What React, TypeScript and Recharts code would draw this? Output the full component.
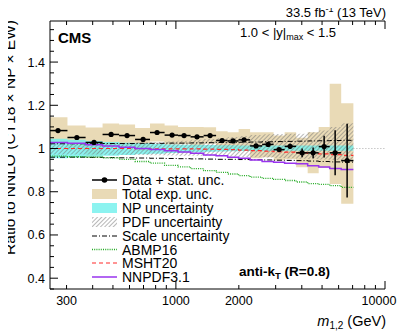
import React from "react";
import {
  ComposedChart,
  Area,
  Line,
  Scatter,
  ErrorBar,
  XAxis,
  YAxis,
  ReferenceLine,
} from "recharts";

const FONT = '"Liberation Sans", Arial, Helvetica, sans-serif';

// dijet mass bins (GeV)
const binEdges = [
  250, 303, 370, 446, 535, 638, 752, 883, 1024, 1175, 1357, 1557, 1768, 1995,
  2264, 2584, 2933, 3311, 3758, 4268, 4818, 5438, 6173, 7060,
];
const binCenters = [
  273, 336, 406, 490, 584, 697, 813, 959, 1094, 1262, 1457, 1663, 1877, 2119,
  2418, 2761, 3117, 3518, 4015, 4532, 5116, 5775, 6590,
];

// data / theory ratio with stat. unc.
const dataRatio = [
  1.083, 1.051, 1.028, 1.065, 1.06, 1.042, 1.074, 1.062, 1.06, 1.054, 1.06,
  1.037, 1.035, 1.04, 1.012, 1.019, 0.995, 1.01, 0.98, 0.98, 1.009, 0.98, 0.944,
];
const statErr = [
  0.002, 0.002, 0.002, 0.002, 0.002, 0.002, 0.002, 0.002, 0.002, 0.003, 0.003,
  0.003, 0.004, 0.004, 0.005, 0.006, 0.008, 0.012, 0.02, 0.025, 0.05, 0.104,
  0.171,
];

// total experimental uncertainty band
const totLow = [
  1.021, 0.996, 0.959, 1.014, 1.009, 0.989, 1.032, 1.018, 1.02, 1.008, 1.022,
  0.994, 0.995, 0.99, 0.955, 0.96, 0.945, 0.95, 0.913, 0.885, 0.91, 0.836, 0.745,
];
const totHigh = [
  1.145, 1.106, 1.097, 1.116, 1.111, 1.095, 1.116, 1.106, 1.1, 1.1, 1.098, 1.08,
  1.075, 1.09, 1.075, 1.075, 1.06, 1.075, 1.05, 1.075, 1.1, 1.3, 1.21,
];

// NP uncertainty
const npLow = [
  0.955, 0.958, 0.962, 0.966, 0.97, 0.973, 0.976, 0.979, 0.981, 0.983, 0.985,
  0.986, 0.987, 0.988, 0.988, 0.989, 0.989, 0.99, 0.99, 0.99, 0.99, 0.99, 0.99,
];
const npHigh = [
  1.045, 1.04, 1.035, 1.03, 1.027, 1.024, 1.021, 1.019, 1.018, 1.017, 1.016,
  1.015, 1.015, 1.014, 1.014, 1.014, 1.014, 1.014, 1.014, 1.014, 1.014, 1.014,
  1.014,
];

// PDF uncertainty
const pdfLow = [
  0.972, 0.972, 0.972, 0.971, 0.971, 0.97, 0.969, 0.968, 0.967, 0.966, 0.965,
  0.964, 0.962, 0.961, 0.96, 0.958, 0.956, 0.955, 0.953, 0.951, 0.949, 0.947,
  0.945,
];
const pdfHigh = [
  1.022, 1.022, 1.023, 1.024, 1.026, 1.028, 1.03, 1.033, 1.036, 1.04, 1.044,
  1.048, 1.053, 1.058, 1.063, 1.066, 1.067, 1.068, 1.068, 1.075, 1.083, 1.1,
  1.117,
];

// scale uncertainty
const scaleUp = [
  1.022, 1.022, 1.022, 1.023, 1.023, 1.024, 1.024, 1.025, 1.025, 1.026, 1.027,
  1.028, 1.028, 1.029, 1.03, 1.031, 1.032, 1.033, 1.034, 1.035, 1.036, 1.037,
  1.038,
];
const scaleDown = [
  0.96, 0.96, 0.959, 0.958, 0.957, 0.956, 0.955, 0.954, 0.953, 0.952, 0.951,
  0.95, 0.95, 0.949, 0.948, 0.947, 0.946, 0.945, 0.944, 0.942, 0.94, 0.938,
  0.937,
];

// alternative PDF sets
const abmp16 = [
  0.965, 0.962, 0.96, 0.957, 0.95, 0.94, 0.932, 0.922, 0.915, 0.907, 0.898,
  0.89, 0.882, 0.875, 0.868, 0.862, 0.857, 0.852, 0.845, 0.838, 0.834, 0.828,
  0.82,
];
const msht20 = [
  1.0, 1.0, 1.0, 1.0, 1.0, 0.999, 0.999, 0.998, 0.998, 0.998, 0.997, 0.996,
  0.995, 0.993, 0.99, 0.988, 0.985, 0.983, 0.98, 0.977, 0.975, 0.972, 0.968,
];
const nnpdf31 = [
  1.028, 1.024, 1.018, 1.012, 1.006, 1.0, 0.995, 0.99, 0.984, 0.978, 0.97,
  0.966, 0.96, 0.955, 0.947, 0.94, 0.937, 0.932, 0.929, 0.92, 0.915, 0.908,
  0.903,
];

// axes
const xTicks = [
  300, 400, 500, 600, 700, 800, 900, 1000, 2000, 3000, 4000, 5000, 6000, 7000,
  8000, 9000, 10000,
];
const xMajor = [1000, 10000];
const xLabels = [300, 1000, 2000, 10000];
const yMajor = [0.4, 0.6, 0.8, 1, 1.2, 1.4];
const yTicks = [
  0.35, 0.4, 0.45, 0.5, 0.55, 0.6, 0.65, 0.7, 0.75, 0.8, 0.85, 0.9, 0.95, 1,
  1.05, 1.1, 1.15, 1.2, 1.25, 1.3, 1.35, 1.4, 1.45, 1.5, 1.55,
];

const legendItems = [
  "Data + stat. unc.",
  "Total exp. unc.",
  "NP uncertainty",
  "PDF uncertainty",
  "Scale uncertainty",
  "ABMP16",
  "MSHT20",
  "NNPDF3.1",
];

const colors = {
  tan: "#e9dab6",
  np: "#6ff0ec",
  hatch: "#707070",
  abmp: "#22aa22",
  msht: "#ff2a2a",
  nnpdf: "#9933ee",
};

// step rows: one per bin edge, last edge repeats last bin
const stepRows = binEdges.map((m, i) => {
  const j = Math.min(i, dataRatio.length - 1);
  return {
    m,
    tot: [totLow[j], totHigh[j]],
    np: [npLow[j], npHigh[j]],
    pdf: [pdfLow[j], pdfHigh[j]],
    scaleUp: scaleUp[j],
    scaleDown: scaleDown[j],
    abmp: abmp16[j],
    msht: msht20[j],
    nnpdf: nnpdf31[j],
  };
});

const points = binCenters.map((m, i) => ({
  m,
  ratio: dataRatio[i],
  yErr: statErr[i],
  xErr: [m - binEdges[i], binEdges[i + 1] - m],
}));

const isMajorY = (v: number) => yMajor.some((t) => Math.abs(t - v) < 1e-6);

const BottomTick = (props: any) => {
  const { x, y, payload } = props;
  const v = payload.value;
  return (
    <g>
      <line x1={x} y1={y} x2={x} y2={y - (xMajor.includes(v) ? 8 : 4)} stroke="#000" />
      {xLabels.includes(v) && (
        <text
          x={v === 10000 ? x - 6 : x}
          y={y + 16}
          textAnchor="middle"
          fontSize={12.5}
          fontFamily={FONT}
          fill="#000"
        >
          {v}
        </text>
      )}
    </g>
  );
};

const TopTick = (props: any) => {
  const { x, y, payload } = props;
  const v = payload.value;
  return <line x1={x} y1={y} x2={x} y2={y + (xMajor.includes(v) ? 8 : 4)} stroke="#000" />;
};

const LeftTick = (props: any) => {
  const { x, y, payload } = props;
  const v = payload.value;
  const major = isMajorY(v);
  return (
    <g>
      <line x1={x} y1={y} x2={x + (major ? 8 : 4)} y2={y} stroke="#000" />
      {major && (
        <text x={x - 5} y={y + 4.5} textAnchor="end" fontSize={12.5} fontFamily={FONT} fill="#000">
          {v === 1 ? "1" : v.toFixed(1)}
        </text>
      )}
    </g>
  );
};

const RightTick = (props: any) => {
  const { x, y, payload } = props;
  const major = isMajorY(payload.value);
  return <line x1={x} y1={y} x2={x - (major ? 8 : 4)} y2={y} stroke="#000" />;
};

const DataPoint = (props: any) => <circle cx={props.cx} cy={props.cy} r={2.6} fill="#000" />;

const Annotations = () => {
  const rowY = [180, 194, 208, 222, 236, 249.5, 263, 277];
  const sx = 92;
  const ex = 117;
  return (
    <svg
      width={407}
      height={331}
      style={{ position: "absolute", left: 0, top: 0, pointerEvents: "none", overflow: "visible" }}
      fontFamily={FONT}
    >
      <defs>
        <pattern
          id="pdfHatchLeg"
          patternUnits="userSpaceOnUse"
          width={3}
          height={3}
          patternTransform="rotate(45)"
        >
          <line x1={0} y1={0} x2={0} y2={3} stroke={colors.hatch} strokeWidth={1} />
        </pattern>
      </defs>
      <text x={386} y={17} textAnchor="end" fontSize={13}>
        33.5 fb<tspan dy={-5} fontSize={9}>-1</tspan>
        <tspan dy={5}> (13 TeV)</tspan>
      </text>
      <text x={58} y={43} fontSize={15} fontWeight="bold">
        CMS
      </text>
      <text x={240} y={37} fontSize={13}>
        1.0 &lt; |y|<tspan dy={3} fontSize={9}>max</tspan>
        <tspan dy={-3}> &lt; 1.5</tspan>
      </text>
      <text x={239} y={276} fontSize={13.5} fontWeight="bold">
        anti-k<tspan dy={3} fontSize={9.5}>T</tspan>
        <tspan dy={-3}> (R=0.8)</tspan>
      </text>
      <text
        x={14.5}
        y={20}
        textAnchor="end"
        fontSize={15.5}
        transform="rotate(-90 14.5 20)"
      >
        Ratio to NNLO (CT18 × NP × EW)
      </text>
      <text x={386} y={326} textAnchor="end" fontSize={14.5}>
        <tspan fontStyle="italic">m</tspan>
        <tspan dy={3} fontSize={10}>1,2</tspan>
        <tspan dy={-3}> (GeV)</tspan>
      </text>

      {/* legend */}
      <line x1={sx} y1={rowY[0]} x2={ex} y2={rowY[0]} stroke="#000" strokeWidth={1.5} />
      <circle cx={(sx + ex) / 2} cy={rowY[0]} r={2.8} fill="#000" />
      <rect x={sx} y={rowY[1] - 5} width={ex - sx} height={10} fill={colors.tan} />
      <rect x={sx} y={rowY[2] - 5} width={ex - sx} height={10} fill={colors.np} fillOpacity={0.8} />
      <rect x={sx} y={rowY[3] - 5} width={ex - sx} height={10} fill="url(#pdfHatchLeg)" />
      <line
        x1={sx}
        y1={rowY[4]}
        x2={ex}
        y2={rowY[4]}
        stroke="#000"
        strokeWidth={1}
        strokeDasharray="5 2 1 2"
      />
      <line
        x1={sx}
        y1={rowY[5]}
        x2={ex}
        y2={rowY[5]}
        stroke={colors.abmp}
        strokeWidth={1.3}
        strokeDasharray="1 1.2"
      />
      <line
        x1={sx}
        y1={rowY[6]}
        x2={ex}
        y2={rowY[6]}
        stroke={colors.msht}
        strokeWidth={1.2}
        strokeDasharray="4 3"
      />
      <line x1={sx} y1={rowY[7]} x2={ex} y2={rowY[7]} stroke={colors.nnpdf} strokeWidth={1.5} />
      {legendItems.map((label, i) => (
        <text key={label} x={122} y={rowY[i] + 5} fontSize={14}>
          {label}
        </text>
      ))}
    </svg>
  );
};

export default function App() {
  return (
    <div
      style={{
        position: "relative",
        width: 407,
        height: 331,
        margin: "-8px 0 0 -8px",
        background: "#fff",
      }}
    >
      <svg width={0} height={0} style={{ position: "absolute" }}>
        <defs>
          <pattern
            id="pdfHatch"
            patternUnits="userSpaceOnUse"
            width={3}
            height={3}
            patternTransform="rotate(45)"
          >
            <line x1={0} y1={0} x2={0} y2={3} stroke={colors.hatch} strokeWidth={1} />
          </pattern>
        </defs>
      </svg>
      <ComposedChart
        width={407}
        height={331}
        data={stepRows}
        margin={{ top: 20, right: 22, bottom: 0, left: 0 }}
      >
        <XAxis
          xAxisId="b"
          dataKey="m"
          type="number"
          scale="log"
          domain={[250, 10000]}
          allowDataOverflow
          ticks={xTicks}
          interval={0}
          tickSize={0}
          tickMargin={0}
          tickLine={false}
          height={42}
          stroke="#000"
          tick={BottomTick}
        />
        <XAxis
          xAxisId="t"
          orientation="top"
          dataKey="m"
          type="number"
          scale="log"
          domain={[250, 10000]}
          allowDataOverflow
          ticks={xTicks}
          interval={0}
          tickSize={0}
          tickMargin={0}
          tickLine={false}
          height={1}
          stroke="#000"
          tick={TopTick}
        />
        <YAxis
          yAxisId="l"
          type="number"
          domain={[0.35, 1.59]}
          allowDataOverflow
          ticks={yTicks}
          interval={0}
          tickSize={0}
          tickMargin={0}
          tickLine={false}
          width={50}
          stroke="#000"
          tick={LeftTick}
        />
        <YAxis
          yAxisId="r"
          orientation="right"
          type="number"
          domain={[0.35, 1.59]}
          allowDataOverflow
          ticks={yTicks}
          interval={0}
          tickSize={0}
          tickMargin={0}
          tickLine={false}
          width={0}
          stroke="#000"
          tick={RightTick}
        />
        <ReferenceLine
          xAxisId="b"
          yAxisId="l"
          segment={[
            { x: 7060, y: 1 },
            { x: 10000, y: 1 },
          ]}
          stroke="#aaaaaa"
          strokeDasharray="1 2"
        />
        <Area
          xAxisId="b"
          yAxisId="l"
          dataKey="tot"
          type="stepAfter"
          stroke="none"
          fill={colors.tan}
          fillOpacity={1}
          isAnimationActive={false}
        />
        <Area
          xAxisId="b"
          yAxisId="l"
          dataKey="np"
          type="stepAfter"
          stroke="none"
          fill={colors.np}
          fillOpacity={0.8}
          isAnimationActive={false}
        />
        <Area
          xAxisId="b"
          yAxisId="l"
          dataKey="pdf"
          type="stepAfter"
          stroke="none"
          fill="url(#pdfHatch)"
          fillOpacity={1}
          isAnimationActive={false}
        />
        <Line
          xAxisId="b"
          yAxisId="l"
          dataKey="scaleUp"
          type="stepAfter"
          stroke="#000"
          strokeWidth={1}
          strokeDasharray="5 2 1 2"
          dot={false}
          activeDot={false}
          isAnimationActive={false}
        />
        <Line
          xAxisId="b"
          yAxisId="l"
          dataKey="scaleDown"
          type="stepAfter"
          stroke="#000"
          strokeWidth={1}
          strokeDasharray="5 2 1 2"
          dot={false}
          activeDot={false}
          isAnimationActive={false}
        />
        <Line
          xAxisId="b"
          yAxisId="l"
          dataKey="abmp"
          type="stepAfter"
          stroke={colors.abmp}
          strokeWidth={1.3}
          strokeDasharray="1 1.2"
          dot={false}
          activeDot={false}
          isAnimationActive={false}
        />
        <Line
          xAxisId="b"
          yAxisId="l"
          dataKey="msht"
          type="stepAfter"
          stroke={colors.msht}
          strokeWidth={1.2}
          strokeDasharray="4 3"
          dot={false}
          activeDot={false}
          isAnimationActive={false}
        />
        <Line
          xAxisId="b"
          yAxisId="l"
          dataKey="nnpdf"
          type="stepAfter"
          stroke={colors.nnpdf}
          strokeWidth={1.5}
          dot={false}
          activeDot={false}
          isAnimationActive={false}
        />
        <Scatter
          xAxisId="b"
          yAxisId="l"
          data={points}
          dataKey="ratio"
          shape={DataPoint}
          isAnimationActive={false}
        >
          <ErrorBar dataKey="xErr" direction="x" width={0} stroke="#000" strokeWidth={1.5} />
          <ErrorBar dataKey="yErr" direction="y" width={0} stroke="#000" strokeWidth={1.5} />
        </Scatter>
      </ComposedChart>
      <Annotations />
    </div>
  );
}
